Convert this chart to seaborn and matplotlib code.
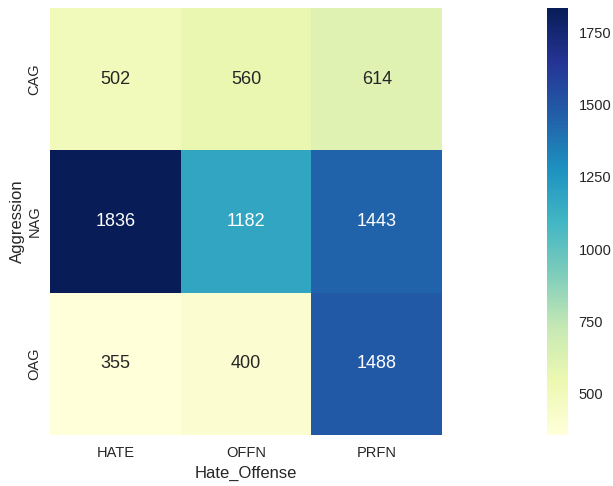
import matplotlib
matplotlib.use("Agg")
import matplotlib.pyplot as plt
import seaborn as sns
import pandas as pd

aggression = ["CAG", "NAG", "OAG"]
hate_offense = ["HATE", "OFFN", "PRFN"]
counts_cag = [502, 560, 614]
counts_nag = [1836, 1182, 1443]
counts_oag = [355, 400, 1488]
cbar_ticks = [500, 750, 1000, 1250, 1500, 1750]

sns.set_style("white")
plt.rcParams["font.family"] = ["Liberation Sans", "DejaVu Sans"]

table = pd.DataFrame([counts_cag, counts_nag, counts_oag],
                     index=pd.Index(aggression, name="Aggression"),
                     columns=pd.Index(hate_offense, name="Hate_Offense"))

fig = plt.figure(figsize=(6.13, 4.86), dpi=100)
ax = fig.add_axes([0.0816, 0.105, 0.6395, 0.8785])
cax = fig.add_axes([0.892, 0.105, 0.034, 0.8785])

sns.heatmap(table, annot=True, fmt="d", cmap="YlGnBu", ax=ax, cbar_ax=cax,
            annot_kws={"fontsize": 13},
            cbar_kws={"ticks": cbar_ticks})

ax.set_xlabel("Hate_Offense", fontsize=12, color=".15", labelpad=4)
ax.set_ylabel("Aggression", fontsize=12, color=".15", labelpad=2)
ax.tick_params(axis="x", labelsize=10.5, colors=".15", length=0, pad=8)
ax.tick_params(axis="y", labelsize=10.5, colors=".15", length=0, pad=6)
cax.tick_params(labelsize=10.5, colors=".15", length=0, pad=8)
for s in cax.spines.values():
    s.set_visible(False)

fig.savefig("out.png", dpi=100)
